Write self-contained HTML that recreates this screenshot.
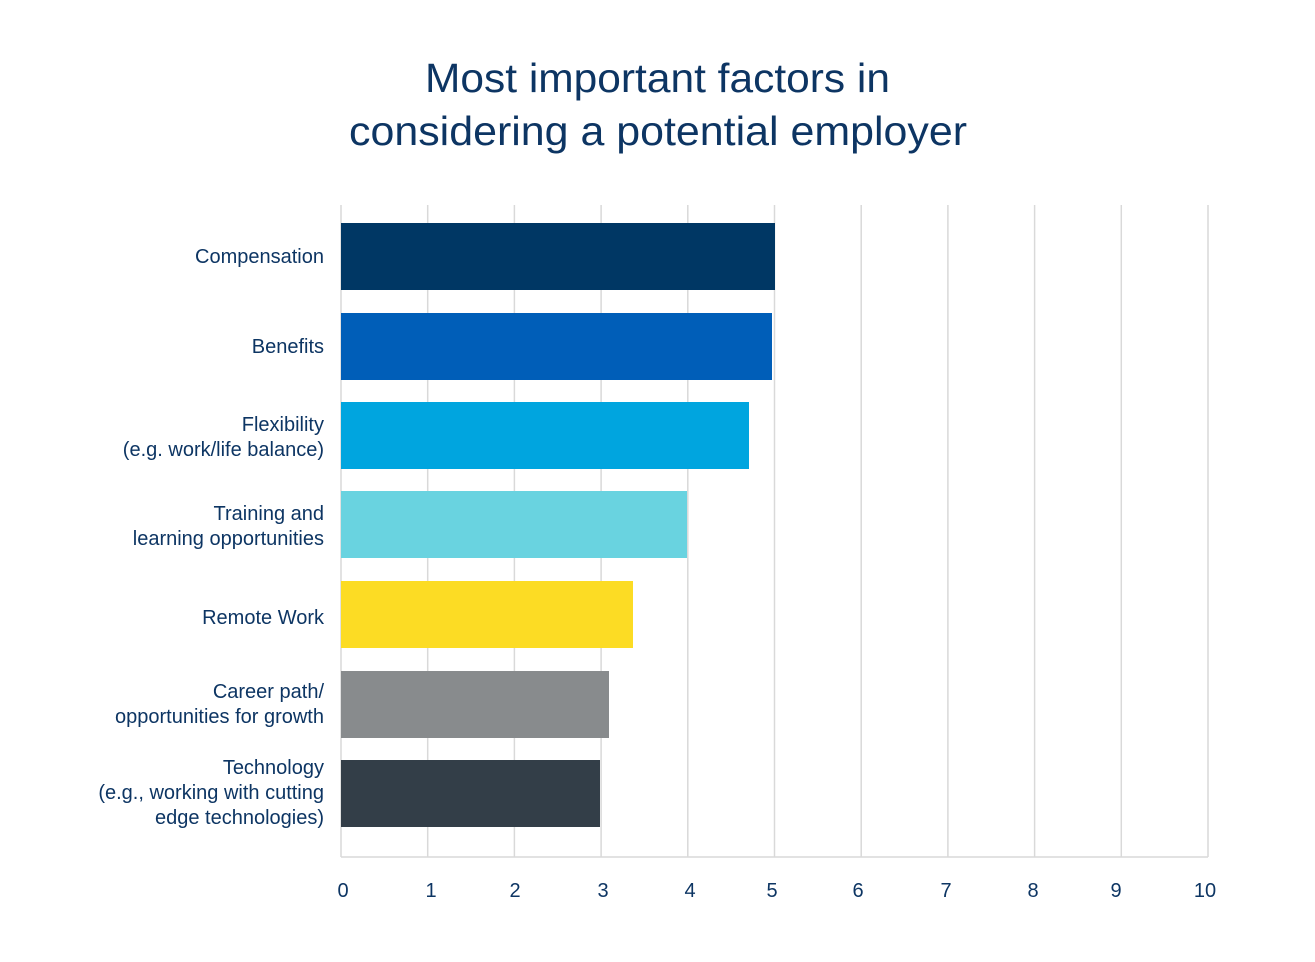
<!DOCTYPE html>
<html><head><meta charset="utf-8"><style>
html,body{margin:0;padding:0;background:#fff;}
</style></head><body>
<svg width="1315" height="957" xmlns="http://www.w3.org/2000/svg" font-family="Liberation Sans, sans-serif">
<rect width="1315" height="957" fill="#fff"/>
<g fill="#0d3563" font-size="41">
<text x="425" y="92" textLength="465" lengthAdjust="spacingAndGlyphs">Most important factors in</text>
<text x="349" y="145" textLength="618" lengthAdjust="spacingAndGlyphs">considering a potential employer</text>
</g>
<g stroke="#d9d9d9" stroke-width="1.5">
<line x1="341" y1="205" x2="341" y2="857"/>
<line x1="427.7" y1="205" x2="427.7" y2="857"/>
<line x1="514.4" y1="205" x2="514.4" y2="857"/>
<line x1="601.1" y1="205" x2="601.1" y2="857"/>
<line x1="687.8" y1="205" x2="687.8" y2="857"/>
<line x1="774.5" y1="205" x2="774.5" y2="857"/>
<line x1="861.2" y1="205" x2="861.2" y2="857"/>
<line x1="947.9" y1="205" x2="947.9" y2="857"/>
<line x1="1034.6" y1="205" x2="1034.6" y2="857"/>
<line x1="1121.3" y1="205" x2="1121.3" y2="857"/>
<line x1="1208" y1="205" x2="1208" y2="857"/>
<line x1="341" y1="857" x2="1208" y2="857"/>
</g>
<rect x="341" y="223" width="434" height="67" fill="#003764"/>
<rect x="341" y="313" width="431" height="67" fill="#005eb8"/>
<rect x="341" y="402" width="408" height="67" fill="#00a5df"/>
<rect x="341" y="491" width="346" height="67" fill="#69d3e0"/>
<rect x="341" y="581" width="292" height="67" fill="#fcdc24"/>
<rect x="341" y="671" width="268" height="67" fill="#888b8d"/>
<rect x="341" y="760" width="259" height="67" fill="#333e48"/>
<g fill="#0d3563" text-anchor="end" font-size="20">
<text x="324" y="263">Compensation</text>
<text x="324" y="353">Benefits</text>
<text x="324" y="431">Flexibility</text>
<text x="324" y="456">(e.g. work/life balance)</text>
<text x="324" y="520">Training and</text>
<text x="324" y="545">learning opportunities</text>
<text x="324" y="624">Remote Work</text>
<text x="324" y="698">Career path/</text>
<text x="324" y="723">opportunities for growth</text>
<text x="324" y="774">Technology</text>
<text x="324" y="799">(e.g., working with cutting</text>
<text x="324" y="824">edge technologies)</text>
</g>
<g fill="#0d3563" text-anchor="middle" font-size="20">
<text x="343" y="897">0</text>
<text x="431" y="897">1</text>
<text x="515" y="897">2</text>
<text x="603" y="897">3</text>
<text x="690" y="897">4</text>
<text x="772" y="897">5</text>
<text x="858" y="897">6</text>
<text x="946" y="897">7</text>
<text x="1033" y="897">8</text>
<text x="1116" y="897">9</text>
<text x="1205" y="897">10</text>
</g>
</svg>
</body></html>
